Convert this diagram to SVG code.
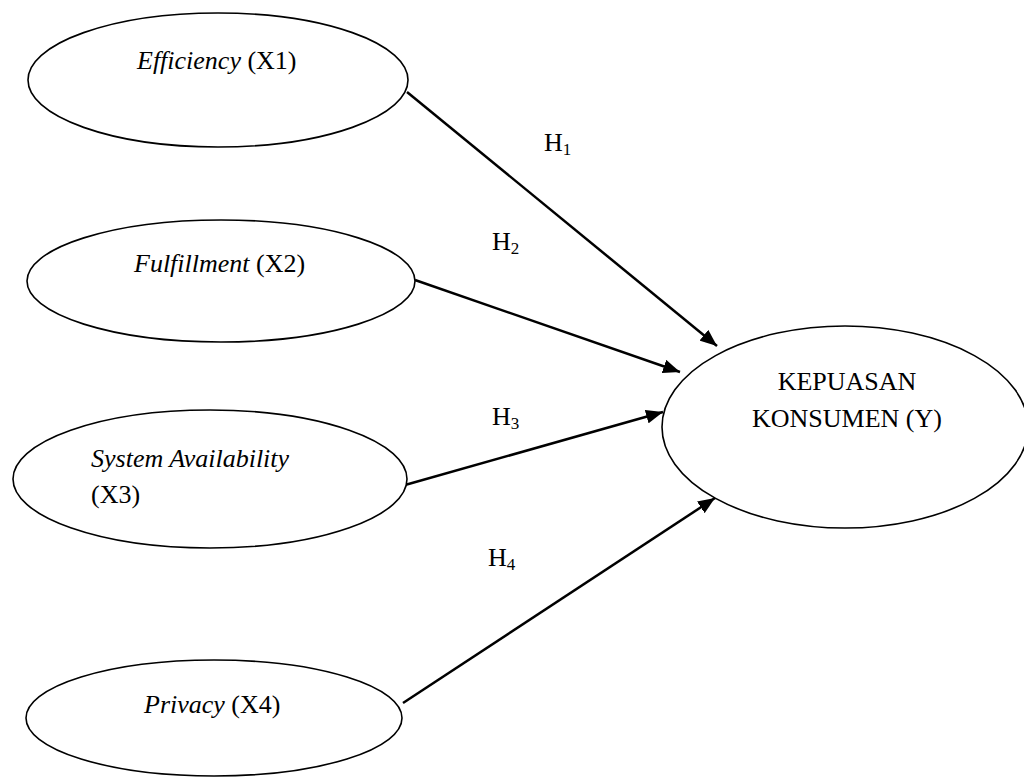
<svg xmlns="http://www.w3.org/2000/svg" width="1024" height="778" viewBox="0 0 1024 778">
<style>
.node ellipse{fill:#fff;stroke:#000;stroke-width:1.6}
text{font-family:"Liberation Serif","Times New Roman",serif;font-size:26px;fill:#000}
.it{font-style:italic}
.sub{font-size:17px}
.conn line{stroke:#000;stroke-width:2.5}
</style>
<defs>
<marker id="ah" markerUnits="userSpaceOnUse" markerWidth="18" markerHeight="14" refX="17" refY="7" orient="auto">
<path d="M0,0 L17,7 L0,14 z" fill="#000"/>
</marker>
</defs>
<rect width="1024" height="778" fill="#fff"/>
<g class="conn" id="connectors">
<line x1="407" y1="92" x2="717" y2="346" marker-end="url(#ah)"/>
<line x1="415" y1="280" x2="680" y2="372" marker-end="url(#ah)"/>
<line x1="405" y1="485" x2="663" y2="412" marker-end="url(#ah)"/>
<line x1="403" y1="703" x2="715" y2="498" marker-end="url(#ah)"/>
</g>
<g id="labels">
<text x="544" y="151">H<tspan class="sub" dy="4">1</tspan></text>
<text x="492" y="250">H<tspan class="sub" dy="4">2</tspan></text>
<text x="492" y="425">H<tspan class="sub" dy="4">3</tspan></text>
<text x="488" y="566">H<tspan class="sub" dy="4">4</tspan></text>
</g>
<g class="node" id="x1">
<ellipse cx="218" cy="80" rx="190" ry="67"/>
<text x="137" y="69"><tspan class="it">Efficiency</tspan> (X1)</text>
</g>
<g class="node" id="x2">
<ellipse cx="221" cy="281" rx="194" ry="61"/>
<text x="134" y="272"><tspan class="it">Fulfillment</tspan> (X2)</text>
</g>
<g class="node" id="x3">
<ellipse cx="210" cy="479" rx="197" ry="69"/>
<text x="91" y="467" class="it">System Availability</text>
<text x="91" y="503">(X3)</text>
</g>
<g class="node" id="x4">
<ellipse cx="214" cy="718" rx="188" ry="58"/>
<text x="144" y="713"><tspan class="it">Privacy</tspan> (X4)</text>
</g>
<g class="node" id="y">
<ellipse cx="845" cy="427" rx="183" ry="101"/>
<text x="847" y="390" text-anchor="middle">KEPUASAN</text>
<text x="847" y="427" text-anchor="middle">KONSUMEN (Y)</text>
</g>
</svg>
